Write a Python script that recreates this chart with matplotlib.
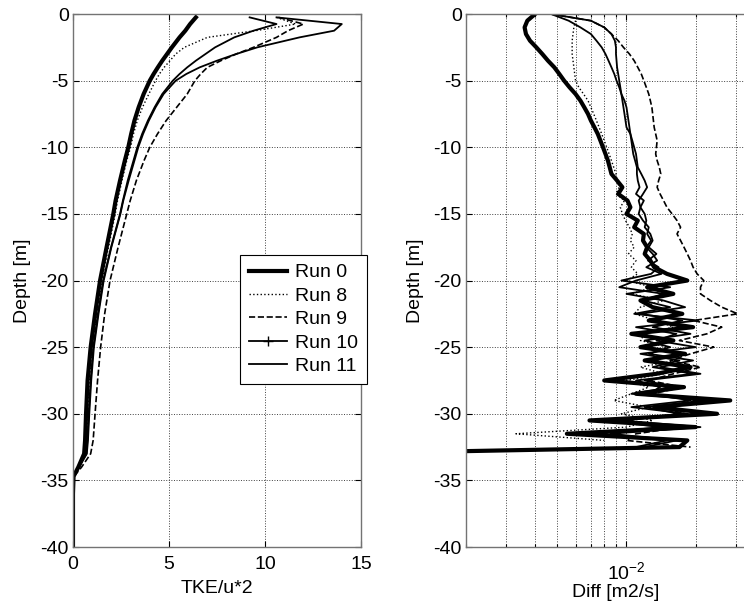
import numpy as np
import matplotlib
matplotlib.use('Agg')
import matplotlib.pyplot as plt
from matplotlib.ticker import LogLocator, FixedLocator, NullFormatter

plt.rcParams['font.family'] = ['Liberation Sans', 'DejaVu Sans']
plt.rcParams['font.size'] = 14
plt.rcParams['axes.unicode_minus'] = False

run_names = ['Run 0', 'Run 8', 'Run 9', 'Run 10', 'Run 11']

# TKE/u*^2 profiles (left panel)
z_tke = [-0.25, -0.75, -1.25, -1.75, -2.5, -3, -3.5, -4, -4.5, -5, -6, -7, -8, -9,
         -10, -11, -12.5, -14, -15, -17.5, -20, -22.5, -25, -27.5, -30, -32, -33,
         -34, -34.7, -36, -38, -40]
tke_run0 = [6.4, 6.1, 5.85, 5.55, 5.15, 4.9, 4.65, 4.42, 4.2, 4.0, 3.68, 3.42, 3.2, 3.03,
            2.88, 2.7, 2.45, 2.22, 2.1, 1.75, 1.41, 1.15, 0.92, 0.76, 0.68, 0.63, 0.58,
            0.28, 0.03, 0, 0, 0]
tke_run8 = [10.6, 11.6, 9.5, 7.0, 5.8, 5.35, 5.05, 4.75, 4.5, 4.3, 3.95, 3.62, 3.35, 3.15,
            3.0, 2.8, 2.55, 2.32, 2.2, 1.85, 1.5, 1.25, 1.0, 0.85, 0.76, 0.7, 0.65,
            0.3, 0.05, 0, 0, 0]
tke_run9 = [10.7, 12.0, 11.2, 10.6, 9.4, 8.5, 7.7, 7.0, 6.65, 6.35, 5.95, 5.4, 4.85, 4.4,
            4.0, 3.7, 3.3, 2.98, 2.8, 2.35, 1.93, 1.65, 1.44, 1.28, 1.15, 1.05, 0.92,
            0.45, 0.05, 0, 0, 0]
tke_run10 = [9.2, 10.6, 9.4, 8.4, 7.4, 6.9, 6.4, 5.95, 5.55, 5.2, 4.65, 4.25, 3.9, 3.6,
             3.35, 3.15, 2.85, 2.6, 2.45, 1.98, 1.57, 1.3, 1.06, 0.92, 0.82, 0.75, 0.7,
             0.3, 0.03, 0, 0, 0]
tke_run11 = [10.6, 14.0, 13.6, 11.8, 9.6, 8.5, 7.5, 6.6, 5.9, 5.35, 4.72, 4.3, 3.95, 3.65,
             3.4, 3.2, 2.9, 2.62, 2.47, 2.0, 1.6, 1.33, 1.09, 0.95, 0.85, 0.78, 0.72,
             0.32, 0.03, 0, 0, 0]

# Diffusivity profiles (right panel), values in 1e-3 m2/s, every 0.5 m from 0 to -33
z_diff = np.arange(0, -33.25, -0.5)
diff_run0 = [4.0, 3.7, 3.6, 3.65, 3.8, 4.05, 4.3, 4.55, 4.85, 5.1,
             5.35, 5.65, 6.0, 6.3, 6.55, 6.8, 7.0, 7.25, 7.5, 7.7,
             7.9, 8.1, 8.3, 8.45, 8.6, 9.1, 9.6, 9.2, 10.1, 10.4,
             10.0, 11.2, 10.8, 11.9, 11.8, 12.3, 12.0, 12.7, 13.2, 15.0,
             18.4, 12.3, 16.0, 11.5, 13.0, 17.5, 12.5, 19.5, 10.5, 16.0,
             11.5, 18.0, 12.0, 19.0, 13.5, 8.0, 17.8, 11.0, 28.3, 13.2,
             24.8, 6.9, 20.0, 5.5, 18.4, 17.0, 0.5]
diff_run8 = [6.2, 6.0, 5.9, 5.85, 5.8, 5.8, 5.8, 5.85, 5.9, 5.95,
             6.0, 6.2, 6.5, 6.8, 7.0, 7.2, 7.4, 7.6, 7.8, 8.0,
             8.2, 8.4, 8.6, 8.8, 9.0, 9.1, 9.3, 9.0, 9.8, 9.4,
             9.6, 9.9, 10.3, 10.6, 10.4, 10.8, 10.2, 11.0, 10.5, 11.2,
             10.0, 13.0, 10.5, 14.5, 11.5, 10.8, 13.5, 16.0, 12.0, 11.5,
             15.0, 12.5, 16.5, 11.5, 14.5, 10.0, 12.5, 10.5, 8.8, 12.5,
             9.5, 13.0, 10.0, 3.3, 8.0, np.nan, np.nan]
diff_run9 = [4.7, 7.0, 8.0, 8.6, 9.2, 9.7, 10.3, 10.8, 11.2, 11.6,
             11.9, 12.2, 12.5, 12.7, 12.9, 13.0, 13.1, 13.2, 13.4, 13.6,
             13.5, 13.4, 13.6, 13.9, 14.1, 13.8, 13.6, 14.0, 14.5, 15.0,
             15.8, 16.6, 17.2, 16.6, 17.2, 17.8, 18.4, 19.0, 19.5, 20.3,
             21.7, 21.0, 21.0, 23.2, 26.0, 30.5, 19.6, 26.0, 22.4, 17.0,
             24.0, 19.0, 15.5, 21.0, 16.0, 12.5, 17.5, 13.0, 20.0, 14.0,
             18.0, 10.0, 17.5, 11.0, 10.0, 19.0, np.nan]
diff_run10 = [4.7, 7.0, 8.0, 8.6, 8.9, 9.0, 9.0, 9.05, 9.1, 9.2,
              9.3, 9.4, 9.5, 9.6, 9.7, 9.8, 9.9, 10.0, 10.4, 10.6,
              10.8, 11.0, 11.1, 11.2, 11.6, 12.0, 12.3, 11.8, 11.3, 11.5,
              12.0, 12.2, 12.0, 12.7, 13.0, 12.5, 13.5, 12.4, 13.8, 12.8,
              9.5, 15.5, 10.0, 14.5, 18.0, 11.5, 17.5, 13.0, 19.0, 12.0,
              15.5, 12.5, 19.5, 14.0, 21.0, 12.0, 16.0, 10.5, 22.0, 12.0,
              17.0, 9.5, 21.0, 8.5, 16.5, 12.0, np.nan]
diff_run11 = [4.7, 5.6, 6.3, 7.0, 7.4, 7.8, 8.1, 8.35, 8.6, 8.85,
              9.05, 9.3, 9.5, 9.8, 10.0, 10.1, 10.2, 10.3, 10.4, 10.5,
              10.6, 10.7, 10.9, 11.1, 11.1, 11.2, 11.4, 11.0, 11.9, 11.5,
              11.3, 11.8, 12.5, 12.3, 12.8, 12.2, 13.0, 13.6, 12.2, 14.2,
              11.0, 9.3, 14.5, 11.8, 15.5, 10.8, 20.5, 11.0, 16.5, 13.5,
              20.0, 11.5, 17.0, 13.0, 19.5, 11.0, 14.0, 12.5, 19.0, 10.5,
              18.5, 8.0, 14.0, 7.5, 15.0, 11.0, np.nan]

tke = [tke_run0, tke_run8, tke_run9, tke_run10, tke_run11]
diff = [diff_run0, diff_run8, diff_run9, diff_run10, diff_run11]
styles = [dict(ls='-', lw=3.0), dict(ls=':', lw=1.0), dict(ls='--', lw=1.2),
          dict(ls='-', lw=1.3, marker='+', ms=7), dict(ls='-', lw=1.3)]

fig = plt.figure(figsize=(7.44, 6.08), dpi=100)
ax1 = fig.add_axes([0.0981, 0.1003, 0.3871, 0.8766])
ax2 = fig.add_axes([0.6263, 0.1003, 0.4016, 0.8766])

grid_kw = dict(color='0.25', linestyle=':', linewidth=0.7)

lines = []
for name, x, st in zip(run_names, tke, styles):
    ln, = ax1.plot(x, z_tke, color='k', label=name, **st)
    lines.append(ln)
leg = ax1.legend(loc='upper left', bbox_to_anchor=(0.58, 0.548), fancybox=False,
                 framealpha=1, edgecolor='k', borderpad=0.45, labelspacing=0.3,
                 handlelength=1.95, handletextpad=0.45, borderaxespad=0)
leg.get_frame().set_linewidth(0.8)
lines[3].set_marker('None')

ax1.set_xlim(0, 15)
ax1.set_ylim(-40, 0)
ax1.set_xticks([0, 5, 10, 15])
ax1.set_yticks(range(-40, 1, 5))
ax1.grid(True, **grid_kw)
ax1.set_xlabel('TKE/u*2', labelpad=5)
ax1.set_ylabel('Depth [m]', labelpad=7)

for name, x, st in zip(run_names, diff, styles):
    st = {k: v for k, v in st.items() if k not in ('marker', 'ms')}
    ax2.plot(np.array(x) * 1e-3, z_diff, color='k', **st)
ax2.set_xscale('log')
ax2.set_xlim(2e-3, 4e-2)
ax2.set_ylim(-40, 0)
ax2.set_yticks(range(-40, 1, 5))
ax2.xaxis.set_major_locator(FixedLocator([1e-2]))
ax2.xaxis.set_minor_locator(LogLocator(base=10, subs=np.arange(2, 10)))
ax2.xaxis.set_minor_formatter(NullFormatter())
ax2.grid(True, which='both', **grid_kw)
ax2.set_xlabel('Diff [m2/s]', labelpad=1)
ax2.set_ylabel('Depth [m]', labelpad=7)

for ax in (ax1, ax2):
    ax.tick_params(which='both', direction='in', top=True, right=True,
                   length=4, width=0.8, colors='k', labelsize=14, pad=3)
    ax.tick_params(which='minor', length=2.5)
    for sp in ax.spines.values():
        sp.set_color('0.45')
        sp.set_linewidth(1.0)
ax1.tick_params(axis='x', pad=6.5)
ax2.tick_params(axis='x', which='major', pad=10)

fig.savefig('out.png', dpi=100)
